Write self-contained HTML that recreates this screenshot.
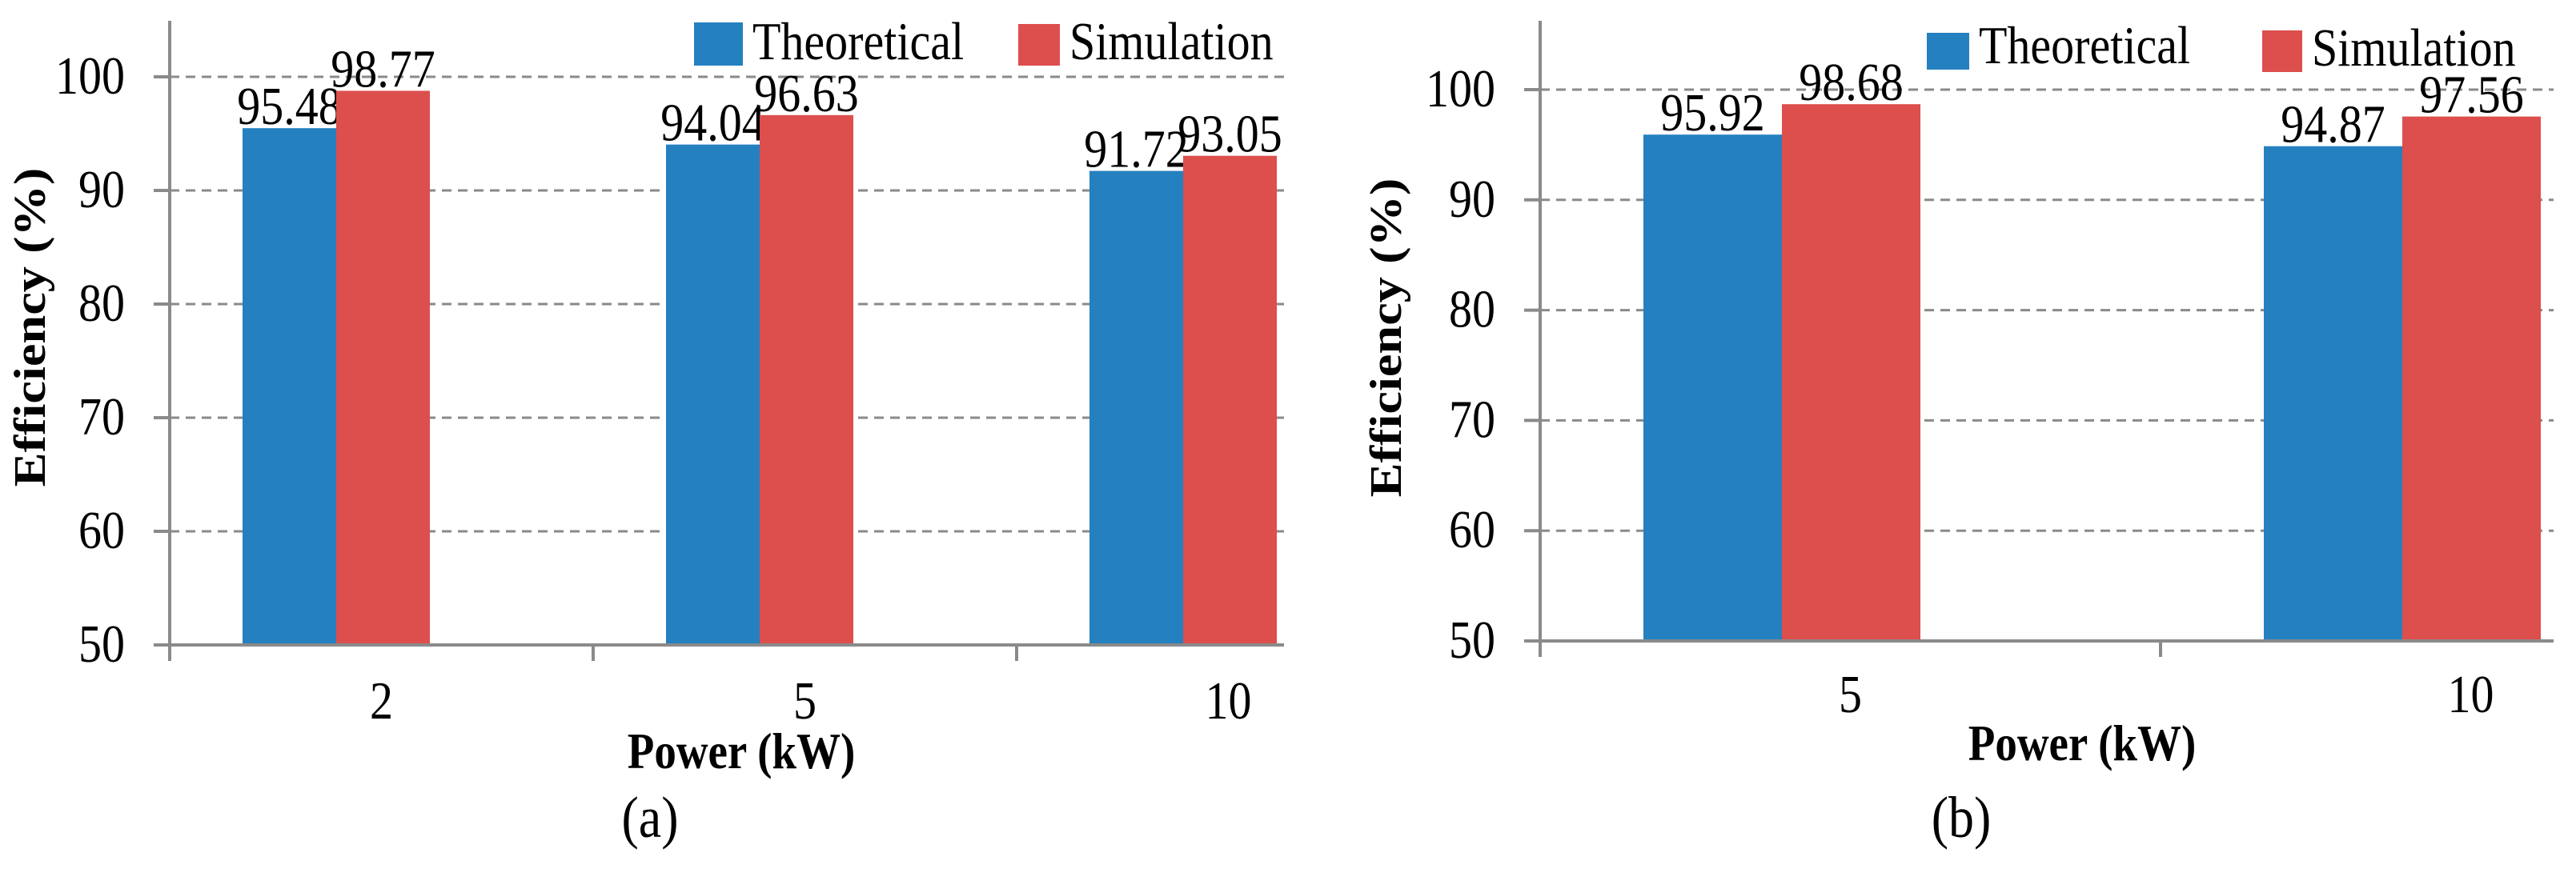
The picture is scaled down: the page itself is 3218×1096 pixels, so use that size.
<!DOCTYPE html>
<html><head><meta charset="utf-8"><style>
html,body{margin:0;padding:0;background:#fff;}
svg{display:block;}
svg text{font-family:"Liberation Serif","Times New Roman",Times,serif;fill:#000;}
</style></head><body>
<svg id="chart" width="3218" height="1096" viewBox="0 0 3218 1096" xmlns="http://www.w3.org/2000/svg" font-family="Liberation Serif, Times New Roman, serif"></svg>
<script>
// Panel (a)
const catsA = ["2", "5", "10"];
const theoA = [95.48, 94.04, 91.72];
const simA = [98.77, 96.63, 93.05];
// Panel (b)
const catsB = ["5", "10"];
const theoB = [95.92, 94.87];
const simB = [98.68, 97.56];
const yTicks = [50, 60, 70, 80, 90, 100];
const seriesNames = ["Theoretical", "Simulation"];

const NS = "http://www.w3.org/2000/svg";
const svg = document.getElementById("chart");
const BLUE = "#2580c0", RED = "#dc4f4d", GRID = "#8a8a8a";

function mk(tag, attrs, parent) {
  const e = document.createElementNS(NS, tag);
  for (const k in attrs) e.setAttribute(k, attrs[k]);
  (parent || svg).appendChild(e);
  return e;
}
function txt(x, y, s, size, anchor, bold, parent, sy) {
  const t = mk("text", {transform: `translate(${x},${y}) scale(1,${sy || 1.15})`, "font-size": size, "text-anchor": anchor || "middle", "font-family": "Liberation Serif, serif"}, parent);
  if (bold) t.setAttribute("font-weight", "bold");
  t.textContent = s;
  return t;
}

function panel(p) {
  const g = mk("g", {});
  
  
  const y = v => p.y50 - (v - 50) * (p.y50 - p.y100) / 50;
  yTicks.forEach(v => {
    const yy = y(v);
    if (v > 50) {
      const l = mk("line", {x1: p.ax, x2: p.right, y1: yy, y2: yy, stroke: GRID, "stroke-width": 3, "stroke-dasharray": "12,8"}, g);
      
      
    }
    mk("line", {x1: p.ax - 20, x2: p.ax, y1: yy, y2: yy, stroke: GRID, "stroke-width": 4}, g);
    const t = txt(p.ax - 56, yy + 21, String(v), 58, "end", false, g);
    
    
  });
  p.cats.forEach((c, i) => {
    const bx = p.ax + i * p.band + p.off;
    [[p.theo[i], BLUE], [p.sim[i], RED]].forEach((d, j) => {
      const x = bx + j * p.bw, top = y(d[0]);
      const r = mk("rect", {x: x, y: top, width: p.bw, height: y(50) - top, fill: d[1]}, g);
      
      
      const t = txt(x + p.bw / 2, top - 5, d[0].toFixed(2), 58, "middle", false, g);
      
      
    });
    const cl = txt(p.ax + i * p.band + p.band / 2 + p.labShift, p.catY, c, 58, "middle", false, g);
    
    
  });
  const ya = mk("line", {x1: p.ax, x2: p.ax, y1: p.top, y2: y(50) + 20, stroke: GRID, "stroke-width": 4}, g);
  
  
  const xa = mk("line", {x1: p.ax - 20, x2: p.right, y1: y(50), y2: y(50), stroke: GRID, "stroke-width": 4}, g);
  
  
  for (let k = 1; k < p.cats.length + 1; k++) {
    const tx = p.ax + k * p.band;
    if (tx < p.right) mk("line", {x1: tx, x2: tx, y1: y(50), y2: y(50) + 20, stroke: GRID, "stroke-width": 4}, g);
  }
  const yt = mk("text", {transform: `translate(${p.ytX},${p.ytY}) rotate(-90) scale(1.15,1)`, "font-size": 56, "font-weight": "bold", "text-anchor": "middle", "font-family": "Liberation Serif, serif"}, g);
  yt.textContent = "Efficiency (%)";
  
  
  const xt = txt(p.xtX, p.xtY, "Power (kW)", 55, "middle", true, g);
  
  
  const pl = txt(p.plX, p.plY, p.label, 64, "middle", false, g);
  
  
  [[p.lg[0], BLUE, seriesNames[0]], [p.lg[1], RED, seriesNames[1]]].forEach(L => {
    const r = mk("rect", {x: L[0][0], y: L[0][1], width: L[0][2], height: L[0][3], fill: L[1]}, g);
    
    
    const t = txt(L[0][0] + L[0][2] + 12, L[0][1] + L[0][3] - 8, L[2], 58, "start", false, g);
    
    
  });
}

panel({name: "panel-a", cats: catsA, theo: theoA, sim: simA, ax: 212, right: 1604, top: 26, y50: 806, y100: 96,
  band: 529, off: 91, bw: 117, catY: 898, labShift: 0,
  ytX: 56, ytY: 409, xtX: 926, xtY: 960, plX: 812, plY: 1046, label: "(a)",
  lg: [[867, 28, 61, 54], [1272, 30, 52, 52]]});
panel({name: "panel-b", cats: catsB, theo: theoB, sim: simB, ax: 1924, right: 3190, top: 26, y50: 801, y100: 112,
  band: 775, off: 129, bw: 173, catY: 890, labShift: 0,
  ytX: 1750, ytY: 422, xtX: 2601, xtY: 950, plX: 2450, plY: 1046, label: "(b)",
  lg: [[2407, 41, 53, 46], [2826, 38, 50, 52]]});
</script>
</body></html>
